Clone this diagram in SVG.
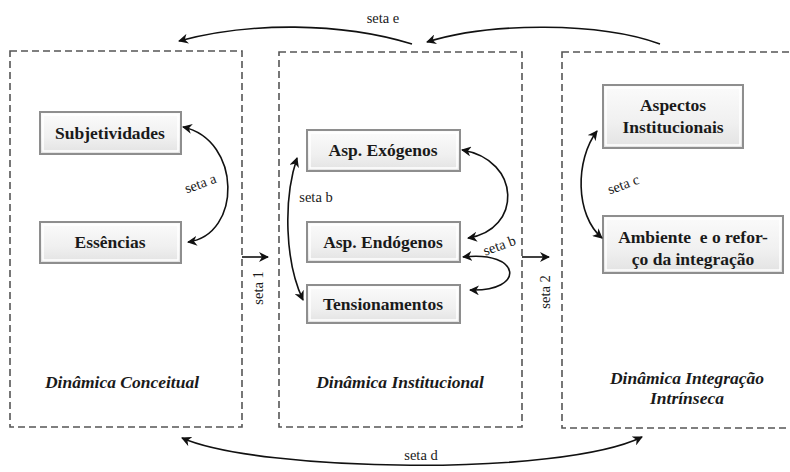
<svg xmlns="http://www.w3.org/2000/svg" width="790" height="472" viewBox="0 0 790 472">
<defs>
<linearGradient id="g" x1="0" y1="0" x2="0" y2="1">
<stop offset="0" stop-color="#fbfbfb"/>
<stop offset="0.6" stop-color="#f0f0f0"/>
<stop offset="1" stop-color="#e2e2e2"/>
</linearGradient>
<marker id="ah" viewBox="0 0 10 10" refX="9" refY="5" markerWidth="10" markerHeight="10" markerUnits="userSpaceOnUse" orient="auto-start-reverse">
<path d="M0,0 L10,5 L0,10 L3,5 Z" fill="#111"/>
</marker>
</defs>
<style>
.frame{fill:none;stroke:#555;stroke-width:1.6;stroke-dasharray:7 4}
.box{fill:url(#g);stroke:#8e8e8e;stroke-width:2}
.inner{fill:none;stroke:#ffffff;stroke-width:1.5}
.nt{font-family:"Liberation Serif",serif;font-weight:bold;font-size:17.5px;fill:#1a1a1a;text-anchor:middle}
.tt{font-family:"Liberation Serif",serif;font-weight:bold;font-style:italic;font-size:17.5px;fill:#1a1a1a;text-anchor:middle}
.lb{font-family:"Liberation Serif",serif;font-size:14.5px;fill:#1a1a1a;text-anchor:middle}
.c{fill:none;stroke:#111;stroke-width:1.6}
</style>
<rect width="790" height="472" fill="#fff"/>
<g id="frames">
<rect id="frame-conceitual" class="frame" x="10" y="51" width="232" height="376"/>
<rect id="frame-institucional" class="frame" x="279" y="52" width="243" height="375"/>
<rect id="frame-integracao" class="frame" x="562" y="52" width="232" height="376"/>
</g>
<g id="n-subjetividades"><rect class="box" x="40" y="112" width="141" height="42"/><rect class="inner" x="43" y="115" width="135" height="36"/><text class="nt" x="110" y="139">Subjetividades</text></g>
<g id="n-essencias"><rect class="box" x="40" y="222" width="141" height="41"/><rect class="inner" x="43" y="225" width="135" height="35"/><text class="nt" x="110" y="248">Essências</text></g>
<g id="n-exogenos"><rect class="box" x="307" y="130" width="153" height="41"/><rect class="inner" x="310" y="133" width="147" height="35"/><text class="nt" x="383" y="156">Asp. Exógenos</text></g>
<g id="n-endogenos"><rect class="box" x="307" y="222" width="153" height="40"/><rect class="inner" x="310" y="225" width="147" height="34"/><text class="nt" x="383" y="248">Asp. Endógenos</text></g>
<g id="n-tensionamentos"><rect class="box" x="307" y="285" width="153" height="38"/><rect class="inner" x="310" y="288" width="147" height="32"/><text class="nt" x="383" y="310">Tensionamentos</text></g>
<g id="n-aspectos"><rect class="box" x="603" y="85" width="140" height="63"/><rect class="inner" x="606" y="88" width="134" height="57"/><text class="nt" x="673" y="111">Aspectos</text><text class="nt" x="673" y="133">Institucionais</text></g>
<g id="n-ambiente"><rect class="box" x="603" y="216" width="180" height="57"/><rect class="inner" x="606" y="219" width="174" height="51"/><text class="nt" x="693" y="243" xml:space="preserve">Ambiente  e o refor-</text><text class="nt" x="693" y="265">ço da integração</text></g>
<g id="titles">
<text class="tt" x="122" y="388">Dinâmica Conceitual</text>
<text class="tt" x="400" y="388">Dinâmica Institucional</text>
<text class="tt" x="687" y="384">Dinâmica Integração</text>
<text class="tt" x="687" y="404">Intrínseca</text>
</g>
<g id="connectors">
<path class="c" d="M412,44 C340,22 250,22 179,41" marker-end="url(#ah)"/>
<path class="c" d="M660,44 C600,22 490,22 427,42" marker-end="url(#ah)"/>
<path class="c" d="M182,438 C260,472 560,477 642,437" marker-start="url(#ah)" marker-end="url(#ah)"/>
<path class="c" d="M183,127 C242,140 242,235 188,242" marker-start="url(#ah)" marker-end="url(#ah)"/>
<path class="c" d="M242,257 H268" marker-end="url(#ah)"/>
<path class="c" d="M522,257 H549" marker-end="url(#ah)"/>
<path class="c" d="M297,158 C283,200 285,262 303,300" marker-start="url(#ah)" marker-end="url(#ah)"/>
<path class="c" d="M462,150 C522,160 522,230 468,238" marker-start="url(#ah)" marker-end="url(#ah)"/>
<path class="c" d="M463,257 C522,250 526,292 470,290" marker-start="url(#ah)" marker-end="url(#ah)"/>
<path class="c" d="M597,131 C575,160 575,215 602,238" marker-start="url(#ah)" marker-end="url(#ah)"/>
</g>
<g id="labels">
<text class="lb" x="383" y="23">seta e</text>
<text class="lb" x="421" y="460">seta d</text>
<text class="lb" transform="translate(202,188) rotate(-20)">seta a</text>
<text class="lb" x="316" y="202">seta b</text>
<text class="lb" transform="translate(501,250) rotate(-20)">seta b</text>
<text class="lb" transform="translate(625,189) rotate(-20)">seta c</text>
<text class="lb" transform="translate(263,288) rotate(-90)">seta 1</text>
<text class="lb" transform="translate(550,292) rotate(-90)">seta 2</text>
</g>
</svg>
